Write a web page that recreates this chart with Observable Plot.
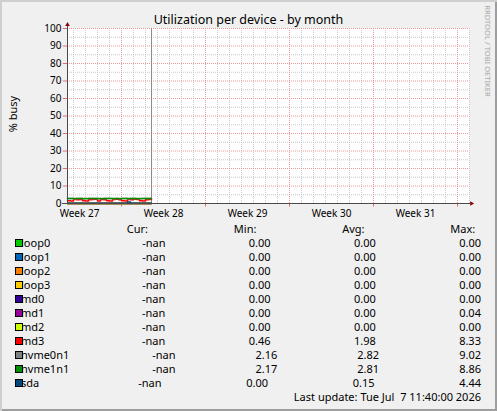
<!DOCTYPE html>
<html><head><meta charset="utf-8">
<script src="https://cdn.jsdelivr.net/npm/d3@7"></script>
<script src="https://cdn.jsdelivr.net/npm/@observablehq/plot@0.6"></script>
<style>
html,body{margin:0;padding:0;background:#fff}
#wrap{position:relative;width:497px;height:411px;background:#f0f0f0;box-shadow:inset 2px 2px 0 #cfcfcf,inset -2px -2px 0 #9e9e9e;font-family:"Noto Sans",sans-serif;color:#000;overflow:hidden}
#chart{position:absolute;left:0;top:0}
#title{position:absolute;left:0;width:497px;text-align:center;top:14px;font-size:12.5px;line-height:12.5px;white-space:nowrap}
#ylabel{position:absolute;left:12px;top:114px;transform:translate(-50%,-50%) rotate(-90deg);font-size:11px;line-height:11px;white-space:nowrap}
#wm{position:absolute;left:487.5px;top:51px;transform:translate(-50%,-50%) rotate(90deg);font-size:7.6px;line-height:8px;color:#aaaaaa;white-space:nowrap}
.row{position:absolute;left:21px;width:460px;height:14px;display:flex;justify-content:space-between;white-space:pre;font-size:11px;line-height:14px}
.sw{position:absolute;left:15px;width:6px;height:6px;border:1px solid #000;z-index:2}
#upd{position:absolute;right:16px;font-size:11px;line-height:14px;white-space:pre}
</style></head>
<body>
<div id="wrap">
  <div id="chart"></div>
  <div id="title">Utilization per device - by month</div>
  <div id="ylabel">% busy</div>
  <div id="wm">RRDTOOL / TOBI OETIKER</div>
  <div id="legend"></div>
</div>
<script>
// ---- data ----
const days = [0,0.25,0.5,0.75,1,1.25,1.5,1.75,2,2.25,2.5,2.75,3,3.25,3.5,3.75,4,4.25,4.5,4.75,5,5.25,5.5,5.75,6,6.25,6.5,6.75,7];
const names = ["loop0","loop1","loop2","loop3","md0","md1","md2","md3","nvme0n1","nvme1n1","sda"];
const colors = ["#00cc00","#0066b3","#ff8000","#ffcc00","#330099","#990099","#ccff00","#ff0000","#808080","#008f00","#00487d"];
const loop0 = [0,0,0,0,0,0,0,0,0,0,0,0,0,0,0,0,0,0,0,0,0,0,0,0,0,0,0,0,0];
const loop1 = [0,0,0,0,0,0,0,0,0,0,0,0,0,0,0,0,0,0,0,0,0,0,0,0,0,0,0,0,0];
const loop2 = [0,0,0,0,0,0,0,0,0,0,0,0,0,0,0,0,0,0,0,0,0,0,0,0,0,0,0,0,0];
const loop3 = [0,0,0,0,0,0,0,0,0,0,0,0,0,0,0,0,0,0,0,0,0,0,0,0,0,0,0,0,0];
const md0 = [0,0,0,0,0,0,0,0,0,0,0,0,0,0,0,0,0,0,0,0,0,0,0,0,0,0,0,0,0];
const md1 = [0,0,0,0,0,0,0,0,0,0,0.04,0,0,0,0,0,0,0,0,0,0,0,0,0,0,0,0,0,0];
const md2 = [0,0,0,0,0,0,0,0,0,0,0,0,0,0,0,0,0,0,0,0,0,0,0,0,0,0,0,0,0];
const md3 = [1.6,1.5,2.3,2.2,2.3,1.6,1.5,2.2,2.3,2.4,1.5,2.3,2.2,1.6,1.5,2.3,2.4,2.2,1.6,1.5,2.3,2.2,2.4,2.3,1.6,1.5,2.2,2.3,2.3];
const nvme0n1 = [2.8,2.9,2.7,2.8,2.9,2.8,2.7,2.8,2.8,2.9,2.7,2.8,2.8,2.9,2.8,2.7,2.8,2.9,2.8,2.8,2.7,2.9,2.8,2.8,2.7,2.8,2.9,2.8,2.8];
const nvme1n1 = [2.8,2.8,2.8,2.9,2.8,2.7,2.8,2.8,2.9,2.8,2.8,2.7,2.8,2.8,2.9,2.8,2.8,2.7,2.8,2.9,2.8,2.8,2.8,2.7,2.8,2.8,2.9,2.8,2.8];
const sda = [0.1,0.1,0.2,0.1,0.1,0.2,0.1,0.1,0.2,0.1,0.1,0.2,0.1,0.1,0.2,0.1,0.1,0.2,0.1,0.1,0.9,0.2,0.1,0.1,0.2,0.1,0.1,0.2,0.1];
const seriesValues = [loop0,loop1,loop2,loop3,md0,md1,md2,md3,nvme0n1,nvme1n1,sda];
const curStats = ["-nan","-nan","-nan","-nan","-nan","-nan","-nan","-nan","-nan","-nan","-nan"];
const minStats = [0.00,0.00,0.00,0.00,0.00,0.00,0.00,0.46,2.16,2.17,0.00];
const avgStats = [0.00,0.00,0.00,0.00,0.00,0.00,0.00,1.98,2.82,2.81,0.15];
const maxStats = [0.00,0.00,0.00,0.00,0.00,0.04,0.00,8.33,9.02,8.86,4.44];
const weekTicks = [1, 8, 15, 22, 29];
const weekLabels = ["Week 27","Week 28","Week 29","Week 30","Week 31"];
const yTicks = [0,10,20,30,40,50,60,70,80,90,100];
const dataEnd = 7;
const title = "Utilization per device - by month";
const yLabel = "% busy";
const lastUpdate = "Last update: Tue Jul  7 11:40:00 2026";

// ---- build ----
const rows = names.flatMap((n, i) => days.map((d, j) => ({name: n, color: colors[i], day: d, value: seriesValues[i][j]})));
const majorX = [4.5, 11.5, 18.5, 25.5, 32.5];
const minorX = d3.range(0.5, 33.6, 1).filter(d => !majorX.includes(d));
const majorY = d3.range(10, 101, 10);
const minorY = d3.range(5, 100, 10);

const chart = Plot.plot({
  width: 497, height: 411,
  marginLeft: 67, marginRight: 28, marginTop: 28, marginBottom: 208,
  style: {background: "transparent", fontFamily: '"Noto Sans", sans-serif', fontSize: "10px", color: "#000", overflow: "visible"},
  x: {domain: [0, 33.5], axis: null},
  y: {domain: [0, 100], axis: null},
  marks: [
    Plot.frame({fill: "#ffffff", stroke: null}),
    Plot.ruleX(minorX, {stroke: "#c8c8c8", strokeDasharray: "1,1"}),
    Plot.ruleY(minorY, {stroke: "#c8c8c8", strokeDasharray: "1,1"}),
    Plot.ruleX(majorX, {stroke: "#eb9a9a", strokeDasharray: "1,1"}),
    Plot.ruleY(majorY, {stroke: "#eb9a9a", strokeDasharray: "1,1"}),
    Plot.ruleX(majorX, {y1: 0, y2: -2, stroke: "#e07070"}),
    Plot.ruleY(yTicks, {x1: -0.35, x2: 0, stroke: "#e07070"}),
    Plot.ruleX([dataEnd], {y1: 0, y2: 100, stroke: "#8c8c8c"}),
    Plot.line(rows, {x: "day", y: "value", z: "name", stroke: "color", curve: "step-after", strokeWidth: 1.5}),
    Plot.ruleY([0], {x1: -0.42, x2: 33.6, stroke: "#4a4a4a"}),
    Plot.ruleX([0], {y1: 0, y2: 102.5, stroke: "#4a4a4a"}),
    Plot.dot([0], {frameAnchor: "top-left", dy: -3.8, symbol: "triangle2", r: 2.2, fill: "#8b0000", stroke: null}),
    Plot.dot([0], {frameAnchor: "bottom-right", dx: 2, symbol: "triangle2", rotate: 90, r: 2.2, fill: "#8b0000", stroke: null}),
    Plot.axisX({ticks: weekTicks, tickFormat: d => weekLabels[weekTicks.indexOf(d)], tickSize: 0, tickPadding: 6, fontSize: 10, label: null}),
    Plot.axisY({ticks: yTicks, tickSize: 0, tickPadding: 6, fontSize: 10, label: null})
  ]
});
document.getElementById("chart").appendChild(chart);
document.getElementById("title").textContent = title;
document.getElementById("ylabel").textContent = yLabel;

// legend
const legend = document.getElementById("legend");
const rowTop = k => 221.7 + 14 * k;
function addRow(k, items) {
  const r = document.createElement("div");
  r.className = "row";
  r.style.top = rowTop(k) + "px";
  items.forEach(t => { const s = document.createElement("span"); s.textContent = t; r.appendChild(s); });
  legend.appendChild(r);
}
addRow(0, ["       ", "Cur:", "Min:", "Avg:", "Max:  "]);
const fmt = v => (typeof v === "number" ? v.toFixed(2) : v).padStart(6);
names.forEach((n, i) => {
  addRow(i + 1, [n.padEnd(8), fmt(curStats[i]), fmt(minStats[i]), fmt(avgStats[i]), fmt(maxStats[i])]);
  const sw = document.createElement("div");
  sw.className = "sw";
  sw.style.background = colors[i];
  sw.style.top = (225 + 14 * (i + 1)) + "px";
  legend.appendChild(sw);
});
const upd = document.createElement("div");
upd.id = "upd";
upd.style.top = rowTop(12) + "px";
upd.textContent = lastUpdate;
legend.appendChild(upd);
</script>
</body></html>
